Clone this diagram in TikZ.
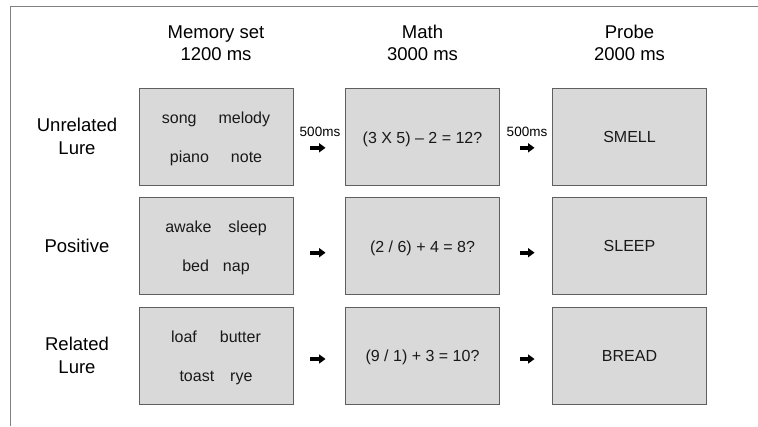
\documentclass[tikz,border=0pt]{standalone}
\usepackage{fontspec}
\setmainfont{Liberation Sans}
\usetikzlibrary{arrows.meta}
\definecolor{boxfill}{HTML}{D9D9D9}
\definecolor{boxline}{HTML}{5F5F5F}
\definecolor{frameline}{HTML}{808080}
\begin{document}
\begin{tikzpicture}[x=1pt,y=1pt,
  stim/.style={draw=boxline, fill=boxfill, line width=0.9pt, minimum width=154pt, minimum height=97pt, inner sep=0pt},
  word/.style={anchor=base, inner sep=0pt, text=black!90, font=\fontsize{16}{19}\selectfont},
  headtxt/.style={align=center, inner sep=0pt, font=\fontsize{18.5}{22}\selectfont},
  rowtxt/.style={align=center, inner sep=0pt, font=\fontsize{18.5}{23}\selectfont},
  isi/.style={inner sep=0pt, font=\fontsize{13.5}{16}\selectfont},
  blk/.style={line width=4.2pt, -{Triangle[length=6.5pt,width=9pt]}}]
\useasboundingbox (0,0) rectangle (758,-426);
\draw[frameline, line width=0.9pt] (10.5,-426) -- (10.5,-6.5) -- (758,-6.5);

% headers
\node[headtxt] (h1) at (216,-43) {Memory set\\1200 ms};
\node[headtxt] (h2) at (422.5,-43) {Math\\3000 ms};
\node[headtxt] (h3) at (629.5,-43) {Probe\\2000 ms};

% row labels
\node[rowtxt] (r1) at (77,-136.5) {Unrelated\\Lure};
\node[rowtxt] (r2) at (77,-246) {Positive};
\node[rowtxt] (r3) at (77,-355.5) {Related\\Lure};

% boxes
\foreach \r/\y in {1/-136.5,2/-245.5,3/-355.5}{
  \node[stim] (m\r) at (216,\y) {};
  \node[stim] (c\r) at (422.5,\y) {};
  \node[stim] (p\r) at (629.5,\y) {};
}

% memory sets
\node[word] (m1a) at ([yshift=13.5pt]m1.center) {song\hspace{22pt}melody};
\node[word] (m1b) at ([yshift=-25.5pt]m1.center) {piano\hspace{22pt}note};
\node[word] (m2a) at ([yshift=13.5pt]m2.center) {awake\hspace{17pt}sleep};
\node[word] (m2b) at ([yshift=-25.5pt]m2.center) {bed\hspace{14pt}nap};
\node[word] (m3a) at ([yshift=13.5pt]m3.center) {loaf\hspace{23pt}butter};
\node[word] (m3b) at ([yshift=-25.5pt]m3.center) {toast\hspace{16pt}rye};

% math
\node[word] (c1t) at ([yshift=-7.3pt]c1.center) {(3 X 5) -- 2 = 12?};
\node[word] (c2t) at ([yshift=-6.7pt]c2.center) {(2 / 6) + 4 = 8?};
\node[word] (c3t) at ([yshift=-6.2pt]c3.center) {(9 / 1) + 3 = 10?};

% probes
\node[word] (p1t) at ([yshift=-6.3pt]p1.center) {SMELL};
\node[word] (p2t) at ([yshift=-5.5pt]p2.center) {SLEEP};
\node[word] (p3t) at ([yshift=-6pt]p3.center) {BREAD};

% arrows
\foreach \r/\dy in {1/-11.3,2/-7.2,3/-3.5}{
  \coordinate (a\r s) at ([xshift=17pt,yshift=\dy pt]m\r.east);
  \coordinate (a\r e) at ([xshift=-19.5pt,yshift=\dy pt]c\r.west);
  \coordinate (b\r s) at ([xshift=20.5pt,yshift=\dy pt]c\r.east);
  \coordinate (b\r e) at ([xshift=-17.5pt,yshift=\dy pt]p\r.west);
  \draw[blk] (a\r s) -- (a\r e);
  \draw[blk] (b\r s) -- (b\r e);
}
\node[isi] (d1) at (320,-131.5) {500ms};
\node[isi] (d2) at (527,-131.5) {500ms};
\end{tikzpicture}
\end{document}
